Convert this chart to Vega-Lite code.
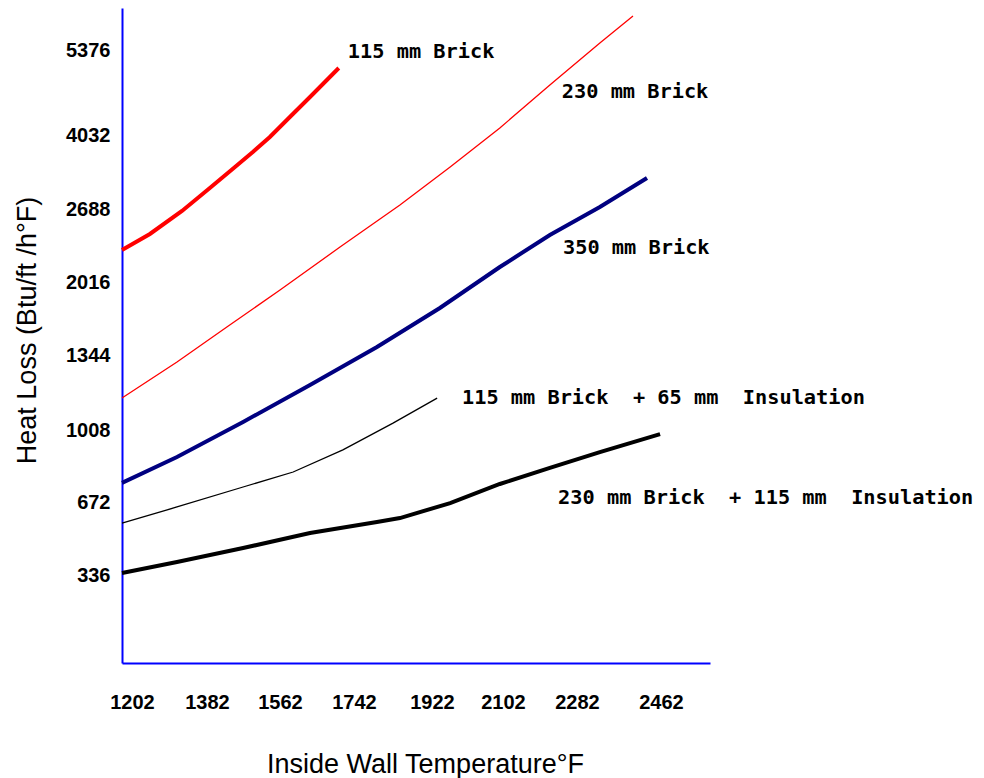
{
  "$schema": "https://vega.github.io/schema/vega-lite/v6.json",
  "width": 588,
  "height": 655,
  "autosize": {"type": "none"},
  "padding": {"left": 122, "top": 8, "right": 274, "bottom": 115},
  "background": "white",
  "config": {
    "view": {"stroke": null},
    "axis": {
      "domainColor": "#0000FF",
      "domainWidth": 2,
      "ticks": false,
      "tickSize": 0,
      "grid": false,
      "labelFont": "Liberation Sans",
      "labelFontWeight": "bold",
      "labelFontSize": 20,
      "labelColor": "#000000",
      "labelOverlap": false,
      "labelFlush": false,
      "titleFont": "Liberation Sans",
      "titleFontWeight": "normal",
      "titleFontSize": 27,
      "titleColor": "#000000"
    }
  },
  "datasets": {
    "lines": [
      {"series": "115 mm Brick", "temp": 1178, "loss": 2311},
      {"series": "115 mm Brick", "temp": 1245, "loss": 2458},
      {"series": "115 mm Brick", "temp": 1322, "loss": 2670},
      {"series": "115 mm Brick", "temp": 1389, "loss": 3069},
      {"series": "115 mm Brick", "temp": 1451, "loss": 3451},
      {"series": "115 mm Brick", "temp": 1495, "loss": 3723},
      {"series": "115 mm Brick", "temp": 1537, "loss": 3996},
      {"series": "115 mm Brick", "temp": 1586, "loss": 4317},
      {"series": "115 mm Brick", "temp": 1635, "loss": 4633},
      {"series": "115 mm Brick", "temp": 1705, "loss": 5091},
      {"series": "230 mm Brick", "temp": 1178, "loss": 1151},
      {"series": "230 mm Brick", "temp": 1310, "loss": 1313},
      {"series": "230 mm Brick", "temp": 1431, "loss": 1602},
      {"series": "230 mm Brick", "temp": 1562, "loss": 1942},
      {"series": "230 mm Brick", "temp": 1708, "loss": 2338},
      {"series": "230 mm Brick", "temp": 1848, "loss": 2761},
      {"series": "230 mm Brick", "temp": 1968, "loss": 3451},
      {"series": "230 mm Brick", "temp": 2094, "loss": 4143},
      {"series": "230 mm Brick", "temp": 2216, "loss": 4823},
      {"series": "230 mm Brick", "temp": 2331, "loss": 5487},
      {"series": "230 mm Brick", "temp": 2402, "loss": 5914},
      {"series": "350 mm Brick", "temp": 1178, "loss": 761},
      {"series": "350 mm Brick", "temp": 1310, "loss": 882},
      {"series": "350 mm Brick", "temp": 1471, "loss": 1044},
      {"series": "350 mm Brick", "temp": 1635, "loss": 1210},
      {"series": "350 mm Brick", "temp": 1795, "loss": 1418},
      {"series": "350 mm Brick", "temp": 1942, "loss": 1777},
      {"series": "350 mm Brick", "temp": 2094, "loss": 2154},
      {"series": "350 mm Brick", "temp": 2216, "loss": 2449},
      {"series": "350 mm Brick", "temp": 2331, "loss": 2724},
      {"series": "350 mm Brick", "temp": 2432, "loss": 3251},
      {"series": "115 mm Brick + 65 mm Insulation", "temp": 1178, "loss": 575},
      {"series": "115 mm Brick + 65 mm Insulation", "temp": 1310, "loss": 649},
      {"series": "115 mm Brick + 65 mm Insulation", "temp": 1471, "loss": 742},
      {"series": "115 mm Brick + 65 mm Insulation", "temp": 1594, "loss": 812},
      {"series": "115 mm Brick + 65 mm Insulation", "temp": 1715, "loss": 915},
      {"series": "115 mm Brick + 65 mm Insulation", "temp": 1832, "loss": 1039},
      {"series": "115 mm Brick + 65 mm Insulation", "temp": 1935, "loss": 1151},
      {"series": "230 mm Brick + 115 mm Insulation", "temp": 1178, "loss": 345},
      {"series": "230 mm Brick + 115 mm Insulation", "temp": 1310, "loss": 396},
      {"series": "230 mm Brick + 115 mm Insulation", "temp": 1471, "loss": 460},
      {"series": "230 mm Brick + 115 mm Insulation", "temp": 1635, "loss": 529},
      {"series": "230 mm Brick + 115 mm Insulation", "temp": 1795, "loss": 580},
      {"series": "230 mm Brick + 115 mm Insulation", "temp": 1848, "loss": 598},
      {"series": "230 mm Brick + 115 mm Insulation", "temp": 1968, "loss": 667},
      {"series": "230 mm Brick + 115 mm Insulation", "temp": 2094, "loss": 756},
      {"series": "230 mm Brick + 115 mm Insulation", "temp": 2216, "loss": 831},
      {"series": "230 mm Brick + 115 mm Insulation", "temp": 2331, "loss": 905},
      {"series": "230 mm Brick + 115 mm Insulation", "temp": 2460, "loss": 989}
    ],
    "labels": [
      {"label": "115 mm Brick", "temp": 1727, "loss": 5344},
      {"label": "230 mm Brick", "temp": 2245, "loss": 4712},
      {"label": "350 mm Brick", "temp": 2248, "loss": 2329},
      {"label": "115 mm Brick\u00a0 + 65 mm\u00a0 Insulation", "temp": 1998, "loss": 1151},
      {"label": "230 mm Brick\u00a0 + 115 mm\u00a0 Insulation", "temp": 2236, "loss": 691}
    ]
  },
  "encoding": {
    "x": {
      "field": "temp",
      "type": "quantitative",
      "scale": {
        "type": "linear",
        "domain": [1178, 1202, 1382, 1562, 1742, 1922, 2102, 2282, 2462, 2572],
        "range": [0, 10, 85, 158, 232, 310, 381, 455, 539, 588],
        "nice": false,
        "zero": false
      },
      "axis": {
        "values": [1202, 1382, 1562, 1742, 1922, 2102, 2282, 2462],
        "format": "d",
        "labelBaseline": "alphabetic",
        "labelPadding": 45,
        "title": "Inside Wall Temperature°F",
        "titleX": 303,
        "titleY": 109,
        "titleAlign": "center",
        "titleBaseline": "alphabetic"
      }
    },
    "y": {
      "field": "loss",
      "type": "quantitative",
      "scale": {
        "type": "linear",
        "domain": [0, 336, 672, 1008, 1344, 2016, 2688, 4032, 5376, 6040],
        "range": [655, 567, 494, 422, 347, 274, 201, 127, 42, 0],
        "nice": false,
        "zero": false
      },
      "axis": {
        "values": [336, 672, 1008, 1344, 2016, 2688, 4032, 5376],
        "format": "d",
        "labelPadding": 12,
        "title": "Heat Loss (Btu/ft /h°F)",
        "titleX": -87,
        "titleY": 322,
        "titleAngle": -90,
        "titleAlign": "center",
        "titleBaseline": "alphabetic"
      }
    }
  },
  "layer": [
    {
      "data": {"name": "lines"},
      "transform": [{"filter": "datum.series === '115 mm Brick'"}],
      "mark": {"type": "line", "color": "#FF0000", "strokeWidth": 4}
    },
    {
      "data": {"name": "lines"},
      "transform": [{"filter": "datum.series === '230 mm Brick'"}],
      "mark": {"type": "line", "color": "#FF0000", "strokeWidth": 1.3}
    },
    {
      "data": {"name": "lines"},
      "transform": [{"filter": "datum.series === '350 mm Brick'"}],
      "mark": {"type": "line", "color": "#000080", "strokeWidth": 4}
    },
    {
      "data": {"name": "lines"},
      "transform": [{"filter": "datum.series === '115 mm Brick + 65 mm Insulation'"}],
      "mark": {"type": "line", "color": "#000000", "strokeWidth": 1.3}
    },
    {
      "data": {"name": "lines"},
      "transform": [{"filter": "datum.series === '230 mm Brick + 115 mm Insulation'"}],
      "mark": {"type": "line", "color": "#000000", "strokeWidth": 4}
    },
    {
      "data": {"name": "labels"},
      "mark": {
        "type": "text",
        "align": "left",
        "baseline": "middle",
        "font": "DejaVu Sans Mono",
        "fontWeight": "bold",
        "fontSize": 20.3,
        "color": "#000000"
      },
      "encoding": {
        "text": {"field": "label", "type": "nominal"}
      }
    }
  ]
}
